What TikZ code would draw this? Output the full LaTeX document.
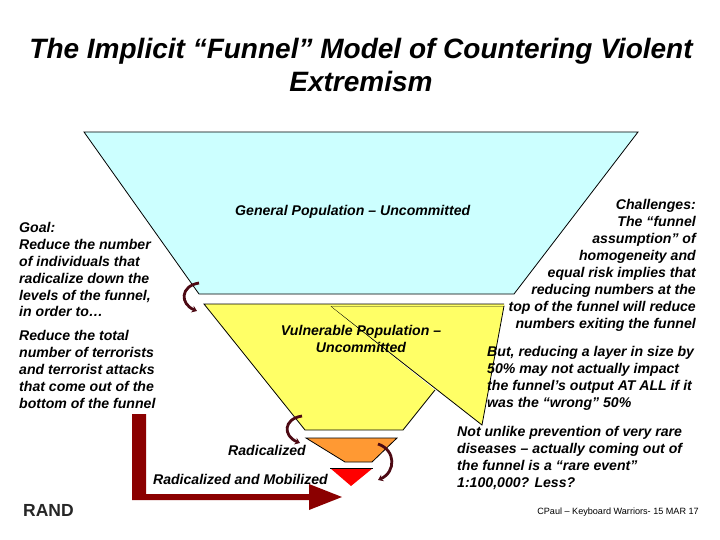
\documentclass[tikz,border=0pt]{standalone}
\usepackage{fontspec}
\setmainfont{Liberation Sans}
\usetikzlibrary{arrows.meta}
\definecolor{skyfill}{HTML}{CCFFFF}
\definecolor{yelfill}{HTML}{FFFF66}
\definecolor{orfill}{HTML}{FF9933}
\definecolor{redfill}{HTML}{FF0000}
\definecolor{darkred}{HTML}{8B0000}
\definecolor{curlcol}{HTML}{4D0A14}
\tikzset{
  layer/.style={draw=black,line width=0.8pt,line join=miter},
  body/.style={inner sep=0pt,font=\fontsize{14.1}{16.9}\selectfont\itshape\bfseries},
  curl/.style={draw=curlcol,line width=2.8pt,-{Stealth[length=5pt,width=7pt]}}
}
\begin{document}
\begin{tikzpicture}[x=1pt,y=-1pt]
\useasboundingbox (0,0) rectangle (720,540);
\fill[white] (0,0) rectangle (720,540);
% funnel layers
\draw[layer,fill=skyfill] (84,132) -- (638,132) -- (514,294) -- (199,294) -- cycle;
\draw[layer,fill=yelfill] (504,306) -- (330,306) -- (482,425) -- cycle;
\fill[yelfill] (204,304) -- (504,304) -- (504,306) -- (330,306) -- (435,390) -- (403,430) -- (305,430) -- cycle;
\draw[layer] (435,390) -- (403,430) -- (305,430) -- (204,304) -- (504,304);
\draw[layer,fill=orfill] (306,438) -- (397,438) -- (372,462) -- (345,462) -- cycle;
\fill[redfill] (330,468) -- (373,468) -- (351,486) -- cycle;
\draw[layer] (330,468) -- (373,468);
% big arrow
\fill[darkred] (132,414) -- (146,414) -- (146,494) -- (309,494) -- (309,484) -- (342,497) -- (309,510) -- (309,500) -- (132,500) -- cycle;
% curls
\coordinate (c1a) at (199,283); \coordinate (c1b) at (197,311);
\coordinate (c2a) at (302,416); \coordinate (c2b) at (300,443);
\coordinate (c3a) at (378,444); \coordinate (c3b) at (378,480);
\draw[curl] (c1a) .. controls (180,286) and (180,304) .. (c1b);
\draw[curl] (c2a) .. controls (283,419) and (283,436) .. (c2b);
\draw[curl] (c3a) .. controls (396,450) and (396,472) .. (c3b);
% text
\node[font=\fontsize{28}{32.5}\selectfont\itshape\bfseries,align=center,inner sep=0pt] (title) at (361,65) {The Implicit “Funnel” Model of Countering Violent\\Extremism};
\node[body,anchor=west] (general) at (235,211.5) {General Population – Uncommitted};
\node[body,align=center] (vuln) at (361,339) {Vulnerable Population –\\Uncommitted};
\node[body,anchor=east] (rad) at (306,450) {Radicalized};
\node[body,anchor=east] (mob) at (328,479) {Radicalized and Mobilized};
\node[body,anchor=north west,align=left] (goal) at (19,222) {Goal:\\Reduce the number\\of individuals that\\radicalize down the\\levels of the funnel,\\in order to…\\[7pt]Reduce the total\\number of terrorists\\and terrorist attacks\\that come out of the\\bottom of the funnel};
\node[body,anchor=north east,align=right] (chal) at (696,199.5) {Challenges: \\The “funnel\\assumption” of\\homogeneity and\\equal risk implies that\\reducing numbers at the\\top of the funnel will reduce\\numbers exiting the funnel};
\node[body,anchor=north west,align=left] (but) at (487,346) {But, reducing a layer in size by\\50\% may not actually impact\\the funnel’s output AT ALL if it\\was the “wrong” 50\%};
\node[body,anchor=north west,align=left] (rare) at (457,426) {Not unlike prevention of very rare\\diseases – actually coming out of\\the funnel is a “rare event”\\1:100,000?  Less?};
\node[inner sep=0pt,anchor=west,font=\fontsize{17.5}{20}\selectfont\bfseries,text=black!85] (rand) at (23,510.5) {RAND};
\node[inner sep=0pt,anchor=east,font=\fontsize{9.1}{11}\selectfont] (cred) at (699,512) {CPaul – Keyboard Warriors- 15  MAR 17};
\end{tikzpicture}
\end{document}
